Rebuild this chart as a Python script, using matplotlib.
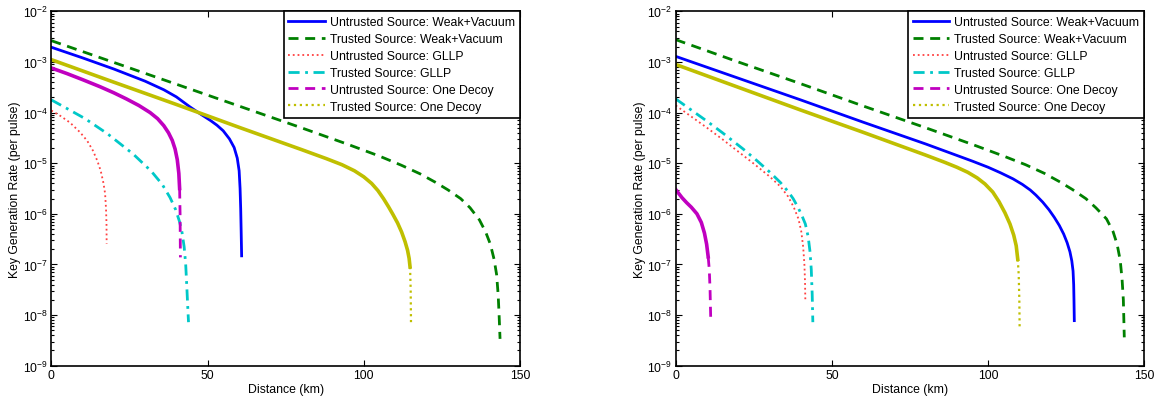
import numpy as np
import matplotlib
matplotlib.use("Agg")
import matplotlib.pyplot as plt
from matplotlib.lines import Line2D

plt.rcParams['font.family'] = ['Liberation Sans', 'DejaVu Sans']
plt.rcParams['mathtext.fontset'] = 'custom'
plt.rcParams['mathtext.rm'] = 'Liberation Sans'

labels = ["Untrusted Source: Weak+Vacuum", "Trusted Source: Weak+Vacuum",
          "Untrusted Source: GLLP", "Trusted Source: GLLP",
          "Untrusted Source: One Decoy", "Trusted Source: One Decoy"]
y_ticks = [1e-9, 1e-8, 1e-7, 1e-6, 1e-5, 1e-4, 1e-3, 1e-2]
x_ticks = [0, 50, 100, 150]

# ---- left panel (distance in km, log10 of key rate) ----
L_uwv_km = [0, 10, 20, 30, 36, 40, 44.4, 48, 51, 53, 55, 57, 58.5, 59.5, 60.1, 60.4, 60.6, 60.75, 60.9]
L_uwv_log = [-2.71, -2.92, -3.14, -3.38, -3.55, -3.69, -3.89, -4.04, -4.16, -4.25, -4.36, -4.52,
             -4.69, -4.90, -5.15, -5.5, -5.9, -6.35, -6.83]
L_twv_km = [0, 20, 40, 60, 80, 95, 105, 112, 118, 123, 127, 131, 134, 137, 139, 140.5, 141.7,
            142.5, 143.0, 143.3, 143.6]
L_twv_log = [-2.58, -3.01, -3.44, -3.87, -4.30, -4.63, -4.86, -5.04, -5.21, -5.38, -5.53, -5.70,
             -5.88, -6.12, -6.36, -6.6, -6.9, -7.2, -7.6, -8.0, -8.47]
L_ugllp_km = [0, 3, 6, 9.2, 11.5, 13.3, 14.7, 15.8, 16.7, 17.2, 17.5, 17.65, 17.7]
L_ugllp_log = [-3.96, -4.07, -4.2, -4.39, -4.56, -4.75, -4.95, -5.15, -5.4, -5.6, -5.9, -6.2, -6.59]
L_tgllp_km = [0, 5, 10.8, 18, 26.2, 32, 35.5, 38, 39.8, 41.0, 41.8, 42.5, 43.0, 43.4, 43.7, 43.9]
L_tgllp_log = [-3.75, -3.92, -4.12, -4.42, -4.82, -5.16, -5.42, -5.68, -5.92, -6.15, -6.36, -6.65,
               -7.0, -7.5, -7.9, -8.14]
L_udec_km = [0, 5, 10, 15.6, 20, 24, 28, 31.6, 34, 36, 37.5, 38.7, 39.6, 40.3, 40.8, 41.05, 41.2, 41.3]
L_udec_log = [-3.12, -3.23, -3.35, -3.49, -3.61, -3.73, -3.86, -4.0, -4.12, -4.26, -4.40, -4.55,
              -4.72, -4.93, -5.2, -5.5, -6.0, -6.86]
L_tdec_km = [0, 20, 40, 60, 80, 88, 93, 97, 100, 102.5, 104.5, 106.3, 107.9, 109.3, 110.8, 112.1,
             113.2, 114.0, 114.5, 114.8, 115.0, 115.1]
L_tdec_log = [-2.955, -3.40, -3.84, -4.29, -4.73, -4.91, -5.03, -5.15, -5.27, -5.40, -5.54, -5.70,
              -5.86, -6.01, -6.18, -6.36, -6.55, -6.72, -6.88, -7.05, -7.5, -8.14]

# ---- right panel ----
R_uwv_km = [0, 20, 40, 60, 80, 95, 100, 104, 108, 111, 113.5, 115.3, 117.5, 119.5, 121.2, 122.8,
            124.2, 125.3, 126.2, 126.8, 127.2, 127.4, 127.5, 127.6]
R_uwv_log = [-2.89, -3.32, -3.75, -4.19, -4.62, -4.96, -5.08, -5.19, -5.31, -5.42, -5.53, -5.63,
             -5.77, -5.92, -6.07, -6.23, -6.40, -6.57, -6.75, -6.93, -7.13, -7.4, -7.72, -8.11]
R_twv_km = [0, 20, 40, 60, 80, 95, 105, 112, 118, 123, 127, 131.3, 134.5, 137.9, 140, 141.3, 142.3,
            142.9, 143.3, 143.6]
R_twv_log = [-2.56, -3.0, -3.43, -3.87, -4.30, -4.63, -4.86, -5.03, -5.2, -5.37, -5.52, -5.70,
             -5.88, -6.1, -6.35, -6.6, -6.92, -7.3, -7.7, -8.44]
R_ugllp_km = [0, 5, 10, 15, 20, 25, 30, 33.5, 36, 37.8, 39.3, 40.2, 40.8, 41.2, 41.4, 41.5]
R_ugllp_log = [-3.86, -4.08, -4.30, -4.53, -4.77, -5.01, -5.26, -5.46, -5.66, -5.87, -6.1, -6.35,
               -6.65, -7.0, -7.35, -7.71]
R_tgllp_km = [0, 5, 10, 15, 21.6, 26, 30, 33.5, 36, 37.6, 39.3, 40.5, 41.5, 42.4, 43.0, 43.4, 43.7, 43.9]
R_tgllp_log = [-3.73, -3.95, -4.17, -4.40, -4.72, -4.95, -5.17, -5.38, -5.56, -5.70, -5.89, -6.05,
               -6.2, -6.45, -6.75, -7.1, -7.6, -8.14]
R_udec_km = [0, 1, 2, 3.5, 5, 6.8, 8.2, 9.2, 9.9, 10.4, 10.75, 11.0, 11.2]
R_udec_log = [-5.52, -5.6, -5.68, -5.78, -5.87, -6.0, -6.17, -6.38, -6.6, -6.85, -7.1, -7.5, -8.04]
R_tdec_km = [0, 20, 40, 60, 80, 86, 90, 93.5, 96.5, 99, 101.5, 103.5, 105.4, 107, 108.2, 109.0,
             109.5, 109.8, 110.0, 110.1]
R_tdec_log = [-3.05, -3.50, -3.95, -4.39, -4.84, -4.98, -5.08, -5.18, -5.29, -5.41, -5.57, -5.76,
              -5.98, -6.2, -6.42, -6.63, -6.9, -7.2, -7.7, -8.27]

blue, green, red, cyan, mag, yel = '#0000ff', '#008000', '#ff4040', '#00c8c8', '#c000c0', '#bfbf00'
FS = 8.8


def rate(v):
    return 10.0 ** np.array(v)


def tail_split(km, lg, cut):
    # dense MATLAB sampling makes the styled line look solid except on the steep tail
    return km[:cut + 1], lg[:cut + 1], km[cut:], lg[cut:]


def panel(ax, uwv, twv, ugllp, tgllp, udec, tdec, udec_cut, tdec_cut):
    ax.semilogy(uwv[0], rate(uwv[1]), '-', color=blue, lw=2)
    ax.semilogy(twv[0], rate(twv[1]), '--', color=green, lw=2, dashes=(3.6, 2.4))
    ax.semilogy(ugllp[0], rate(ugllp[1]), ':', color=red, lw=1.3)
    ax.semilogy(tgllp[0], rate(tgllp[1]), '-.', color=cyan, lw=2, dashes=(4, 2, 1, 2))
    a, b, c, d = tail_split(udec[0], udec[1], udec_cut)
    ax.semilogy(a, rate(b), '-', color=mag, lw=2.6)
    ax.semilogy(c, rate(d), '--', color=mag, lw=2, dashes=(3.6, 2.4))
    a, b, c, d = tail_split(tdec[0], tdec[1], tdec_cut)
    ax.semilogy(a, rate(b), '-', color=yel, lw=2.6)
    ax.semilogy(c, rate(d), ':', color=yel, lw=1.6)

    ax.set_xlim(0, 150)
    ax.set_ylim(1e-9, 1e-2)
    ax.set_xticks(x_ticks)
    ax.set_yticks(y_ticks)
    ax.tick_params(which='both', direction='in', top=True, right=True, labelsize=FS, width=0.8, pad=2.5)
    ax.tick_params(which='major', length=4)
    ax.tick_params(which='minor', length=2)
    for s in ax.spines.values():
        s.set_linewidth(1.2)
    ax.set_xlabel("Distance (km)", fontsize=FS, labelpad=1.5)
    ax.set_ylabel("Key Generation Rate (per pulse)", fontsize=FS, labelpad=1)

    handles = [Line2D([], [], color=blue, lw=2),
               Line2D([], [], color=green, lw=2, ls='--', dashes=(3.6, 2.4)),
               Line2D([], [], color=red, lw=1.3, ls=':'),
               Line2D([], [], color=cyan, lw=2, ls='-.', dashes=(4, 2, 1, 2)),
               Line2D([], [], color=mag, lw=2, ls='--', dashes=(3.6, 2.4)),
               Line2D([], [], color=yel, lw=1.6, ls=':')]
    leg = ax.legend(handles, labels, loc='upper right', borderaxespad=0, fontsize=FS,
                    fancybox=False, framealpha=1, edgecolor='black', handlelength=3.0,
                    handletextpad=0.4, labelspacing=0.4, borderpad=0.4)
    leg.get_frame().set_linewidth(1.2)


fig = plt.figure(figsize=(11.59, 4.02), dpi=100)
ax1 = fig.add_axes([0.0443, 0.0878, 0.4044, 0.8816])
ax2 = fig.add_axes([0.5830, 0.0878, 0.4043, 0.8816])

panel(ax1, (L_uwv_km, L_uwv_log), (L_twv_km, L_twv_log), (L_ugllp_km, L_ugllp_log),
      (L_tgllp_km, L_tgllp_log), (L_udec_km, L_udec_log), (L_tdec_km, L_tdec_log), 15, 19)
panel(ax2, (R_uwv_km, R_uwv_log), (R_twv_km, R_twv_log), (R_ugllp_km, R_ugllp_log),
      (R_tgllp_km, R_tgllp_log), (R_udec_km, R_udec_log), (R_tdec_km, R_tdec_log), 9, 16)

fig.savefig("out.png", dpi=100)
